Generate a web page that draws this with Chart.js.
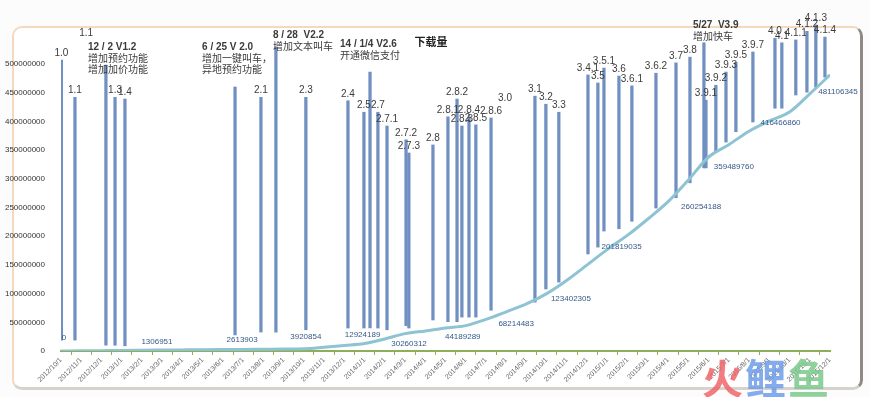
<!DOCTYPE html>
<html>
<head>
<meta charset="utf-8">
<script src="https://cdn.jsdelivr.net/npm/chart.js@4.4.1/dist/chart.umd.min.js"></script>
<style>
    body { margin: 0; background: #fcfcfc; width: 870px; height: 397px; overflow: hidden; }
    #frame {
        position: absolute; left: 12px; top: 26px; width: 846px; height: 359px;
        background: #fff; border: 2px solid #f4d9bd; border-right: 3px solid #8e8a86;
        border-bottom: 3px solid #d6d2cd; border-radius: 10px;
    }
    #chart { position: absolute; left: 0; top: 0; }
    #mark { position: absolute; left: 702px; top: 346px; font: bold 41px "Noto Sans CJK SC"; letter-spacing: 2px; opacity: 0.85; }
</style>
</head>
<body>
<div id="frame"></div>
<canvas id="chart" width="870" height="397"></canvas>
<div id="mark"><span style="color:#f0666a">火</span><span style="color:#6f9de8">鲤</span><span style="color:#7cc98c">鱼</span></div>
<script>
// monthly x axis
const monthLabels = [
    '2012/10/1', '2012/11/1', '2012/12/1', '2013/1/1', '2013/2/1', '2013/3/1', '2013/4/1',
    '2013/5/1', '2013/6/1', '2013/7/1', '2013/8/1', '2013/9/1', '2013/10/1', '2013/11/1',
    '2013/12/1', '2014/1/1', '2014/2/1', '2014/3/1', '2014/4/1', '2014/5/1', '2014/6/1',
    '2014/7/1', '2014/8/1', '2014/9/1', '2014/10/1', '2014/11/1', '2014/12/1', '2015/1/1',
    '2015/2/1', '2015/3/1', '2015/4/1', '2015/5/1', '2015/6/1', '2015/7/1', '2015/8/1',
    '2015/9/1', '2015/10/1', '2015/11/1', '2015/12/1'
];
const yTicks = [0, 50000000, 100000000, 150000000, 200000000, 250000000, 300000000,
    350000000, 400000000, 450000000, 500000000];

// cumulative downloads, one value per month
const downloads = [
    0, 300000, 650000, 1000000, 1306951, 1600000, 1900000, 2200000, 2450000, 2613903,
    3000000, 3450000, 3920854, 6500000, 9500000, 12924189, 21000000, 30260312, 35000000,
    40000000, 44189289, 55000000, 68214483, 82000000, 100000000, 123402305, 150000000,
    177000000, 201819035, 230000000, 260254188, 298000000, 338000000, 359489760,
    383000000, 401000000, 416466860, 448000000, 481106345
];
// months whose value is printed
const labelledMonths = [0, 4, 9, 12, 15, 17, 20, 22, 25, 28, 30, 33, 36, 38];

// version releases: position in months since 2012/10/1, bar from low to high
const versionNames = [
    '1.0', '1.1', '12 / 2 V1.2\n增加预约功能\n增加加价功能', '1.3', '1.4',
    '6 / 25 V 2.0\n增加一键叫车，\n异地预约功能', '2.1', '8 / 28  V2.2\n增加文本叫车', '2.3',
    '2.4', '2.5', '14 / 1/4 V2.6\n开通微信支付', '2.7', '2.7.1', '2.7.2', '2.7.3', '2.8',
    '2.8.1', '2.8.2', '2.8.3', '2.8.4', '2.8.5', '2.8.6', '3.1', '3.2', '3.3', '3.4.1', '3.5',
    '3.5.1', '3.6', '3.6.1', '3.6.2', '3.7', '3.8', '5/27  V3.9\n增加快车', '3.9.1', '3.9.2',
    '3.9.3', '3.9.5', '3.9.7', '4.0', '4.1', '4.1.1', '4.1.2', '4.1.3', '4.1.4'
];
const versionMonth = [
    0.02, 0.69, 2.22, 2.67, 3.16, 8.60, 9.88, 10.62, 12.10, 14.18, 14.97, 15.27, 15.66,
    16.11, 17.05, 17.19, 18.38, 19.12, 19.57, 19.81, 20.16, 20.50, 21.25, 23.42, 23.96,
    24.60, 26.04, 26.53, 26.83, 27.57, 28.21, 29.40, 30.39, 31.08, 31.77, 31.87, 32.36,
    32.86, 33.35, 34.19, 35.28, 35.62, 36.31, 36.86, 37.30, 37.75
];
const versionHigh = [
    507, 442, 498, 442, 439, 460, 442, 530, 442, 436, 416, 486, 416, 392, 368, 345, 359,
    408, 439, 392, 408, 394, 406, 444, 430, 416, 481, 467, 493, 479, 462, 484, 502, 512,
    537, 437, 463, 486, 503, 521, 545, 537, 542, 557, 568, 547
].map(v => v * 1e6);
const versionLow = [
    19, 19, 10, 10, 9, 28, 33, 33, 37, 40, 40, 40, 40, 37, 44, 40, 54, 51, 51, 59, 59, 59,
    71, 85, 108, 120, 169, 181, 209, 213, 226, 249, 267, 293, 319, 319, 347, 364, 382, 399,
    423, 423, 446, 451, 460, 477
].map(v => v * 1e6);

// labels without a bar
const looseNames = ['1.1', '3.0'];
const looseMonth = [1.24, 21.94];
const looseValue = [545e6, 432e6];

// styling: pixel shifts of the value labels and of the release notes
const valueShift = [[3, -13], [15, -8], [-1, -10], [2, -12], [-2, -9], [4, 10], [-3, 11],
    [10, 12], [4, 19], [-6, 12], [33, 5], [5, 22], [-9, 11], [8, 17]];
const noteShift = {
    '12 / 2 V1.2': [-18, -18], '6 / 25 V 2.0': [-33, -40], '8 / 28  V2.2': [-3, -12],
    '14 / 1/4 V2.6': [-30, -28], '5/27  V3.9': [-11, -18]
};

const textPlugin = {
    id: 'texts',
    afterDatasetsDraw(chart) {
        const ctx = chart.ctx, xs = chart.scales.x, ys = chart.scales.y;
        ctx.save();

        // version numbers and notes
        versionNames.forEach((name, k) => {
            const px = xs.getPixelForValue(versionMonth[k]);
            const py = ys.getPixelForValue(versionHigh[k]);
            const lines = name.split('\n');
            if (lines.length === 1) {
                ctx.font = '10px "Liberation Sans"';
                ctx.fillStyle = '#3c3c3c';
                ctx.textAlign = 'center';
                ctx.textBaseline = 'bottom';
                ctx.fillText(name, px, py - 2);
                return;
            }
            const [dx, dy] = noteShift[lines[0]];
            ctx.textAlign = 'left';
            ctx.textBaseline = 'middle';
            ctx.fillStyle = '#3a3a3a';
            lines.forEach((l, j) => {
                ctx.font = j === 0 ? 'bold 10px "Liberation Sans"' : '10px "Noto Sans CJK SC"';
                ctx.fillText(l, px + dx, py + dy + j * 11);
            });
        });

        ctx.font = '10px "Liberation Sans"';
        ctx.fillStyle = '#3c3c3c';
        ctx.textAlign = 'center';
        ctx.textBaseline = 'bottom';
        looseNames.forEach((name, k) => {
            ctx.fillText(name, xs.getPixelForValue(looseMonth[k]), ys.getPixelForValue(looseValue[k]));
        });

        // download values
        ctx.font = '8px "Liberation Sans"';
        ctx.fillStyle = '#35598a';
        ctx.textBaseline = 'middle';
        labelledMonths.forEach((m, k) => {
            const px = xs.getPixelForValue(m) + valueShift[k][0];
            const py = ys.getPixelForValue(downloads[m]) + valueShift[k][1];
            ctx.fillText(String(downloads[m]), px, py);
        });

        // title
        ctx.font = 'bold 11px "Noto Sans CJK SC"';
        ctx.fillStyle = '#222';
        ctx.fillText('下载量', 431, 42);
        ctx.restore();
    }
};

new Chart(document.getElementById('chart'), {
    type: 'bar',
    data: {
        datasets: [
            {
                type: 'line',
                label: '下载量',
                data: downloads.map((v, i) => ({ x: i, y: v })),
                borderColor: '#8ec3d3',
                borderWidth: 3,
                pointRadius: 0,
                cubicInterpolationMode: 'monotone',
                order: 0
            },
            {
                type: 'bar',
                label: '版本',
                data: versionMonth.map((m, k) => ({ x: m, y: [versionLow[k], versionHigh[k]] })),
                backgroundColor: '#7190c2',
                barThickness: 2.6,
                order: 1
            }
        ]
    },
    options: {
        responsive: false,
        animation: false,
        devicePixelRatio: 1,
        layout: { padding: { top: 20, right: 40, left: 0, bottom: 0 } },
        plugins: { legend: { display: false }, tooltip: { enabled: false } },
        scales: {
            x: {
                type: 'linear',
                min: 0,
                max: 38,
                offset: false,
                afterFit: s => { s.height = 46; },
                grid: { drawOnChartArea: false, drawTicks: true, tickLength: 4, color: '#8fae5a' },
                border: { color: '#8fae5a', width: 2 },
                ticks: {
                    stepSize: 1,
                    autoSkip: false,
                    minRotation: 45,
                    maxRotation: 45,
                    padding: 1,
                    color: '#666',
                    font: { size: 7, family: 'Liberation Sans' },
                    callback: v => monthLabels[v]
                }
            },
            y: {
                min: 0,
                max: 576.7e6,
                afterFit: s => { s.width = 61; },
                afterBuildTicks: s => { s.ticks = yTicks.map(v => ({ value: v })); },
                grid: { display: false },
                border: { display: false },
                ticks: {
                    padding: 8,
                    color: '#333',
                    font: { size: 8, family: 'Liberation Sans' },
                    callback: v => String(v)
                }
            }
        }
    },
    plugins: [textPlugin]
});
</script>
</body>
</html>
